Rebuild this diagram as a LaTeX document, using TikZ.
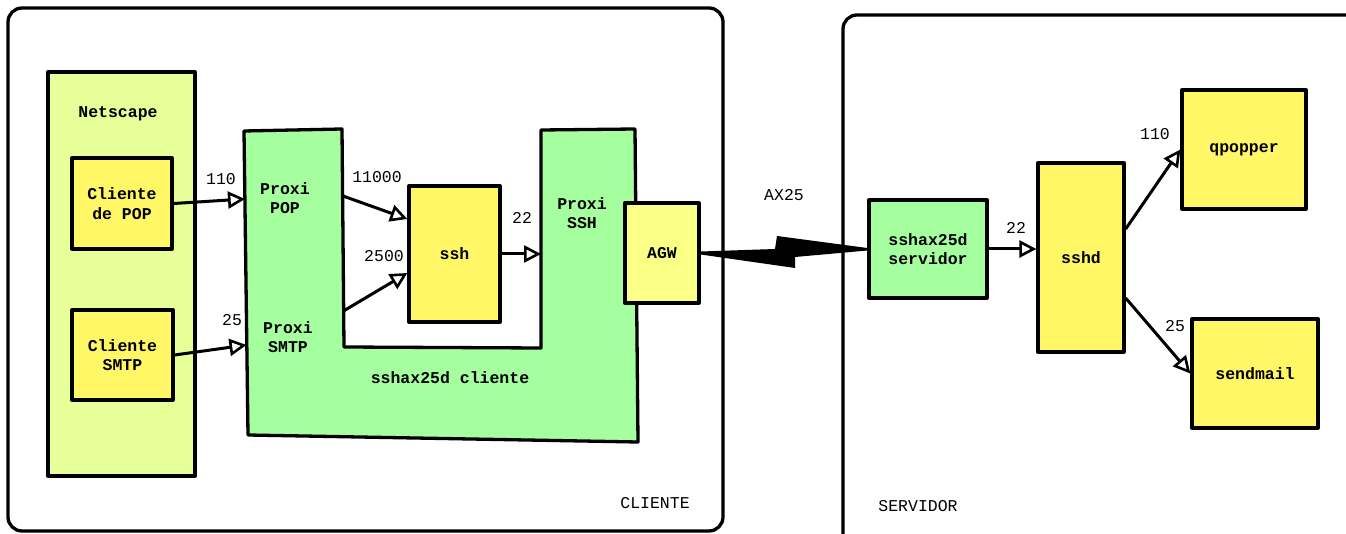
\documentclass[tikz,border=0pt]{standalone}
\usepackage{fontspec}
\setmainfont{Liberation Mono}
\usetikzlibrary{arrows.meta,calc}
\definecolor{grn}{HTML}{A6FF9F}
\definecolor{ylw}{HTML}{FFF766}
\definecolor{limec}{HTML}{E6FF98}
\definecolor{agwc}{HTML}{FAFF85}
\begin{document}
\begin{tikzpicture}[x=1pt,y=-1pt,line join=round,
  font=\fontsize{16.5}{19.5}\selectfont,
  box/.style={draw,line width=3.3pt,inner sep=0pt,align=center,font=\fontsize{16.5}{19.5}\selectfont\bfseries},
  txt/.style={inner sep=0pt,align=center},
  btxt/.style={inner sep=0pt,align=center,font=\fontsize{16.5}{19.5}\selectfont\bfseries},
  container/.style={draw,line width=3.3pt,rounded corners=14pt},
  conn/.style={line width=3pt,-{Triangle[fill=white,length=17pt,width=17pt,line width=2.6pt]}}]
\useasboundingbox (0,0) rectangle (1346,534);
\fill[white] (0,0) rectangle (1346,534);
\clip (0,0) rectangle (1346,534);

% containers
\draw[container] (8,8) rectangle (723,531);
\draw[container] (843,15) rectangle (1370,560);
\node[txt] (cliente) at (655,503) {CLIENTE};
\node[txt] (servidor) at (918,506) {SERVIDOR};

% Netscape
\node[box,fill=limec,minimum width=147pt,minimum height=404pt] (netscape) at (121.5,274) {};
\node[btxt] (netscapelbl) at (118,114) {Netscape};
\node[box,fill=ylw,minimum width=100pt,minimum height=91pt] (cpop) at (122,203.5) {Cliente\\de POP};
\node[box,fill=ylw,minimum width=101pt,minimum height=90pt] (csmtp) at (122.5,355) {Cliente\\SMTP};

% sshax25d cliente (U shape)
\draw[fill=grn,line width=3.3pt] (244,131) -- (342,129) -- (344,347) -- (541,348) -- (541,130) -- (635,129) -- (638,442) -- (248,435) -- cycle;
\coordinate (ppopin) at (245,199);
\coordinate (psmtpin) at (246.5,345);
\coordinate (ppopout) at (343,196);
\coordinate (psmtpout) at (343.5,311);
\coordinate (psshin) at (541,251);
\node[btxt] (ppop) at (285,198) {Proxi\\POP};
\node[btxt] (psmtp) at (288,337) {Proxi\\SMTP};
\node[btxt] (pssh) at (582,213) {Proxi\\SSH};
\node[btxt] (sshcli) at (450,378) {sshax25d cliente};

\node[box,fill=ylw,minimum width=91pt,minimum height=136pt] (ssh) at (454.5,254) {ssh};
\node[box,fill=agwc,minimum width=74pt,minimum height=100pt] (agw) at (662,253) {AGW};

% servidor side
\node[box,fill=grn,minimum width=118pt,minimum height=98pt] (srv) at (928,249) {sshax25d\\servidor};
\node[box,fill=ylw,minimum width=86pt,minimum height=189pt] (sshd) at (1081,257.5) {sshd};
\node[box,fill=ylw,minimum width=124pt,minimum height=119pt] (qpop) at (1244,149.5) {qpopper};
\node[box,fill=ylw,minimum width=126pt,minimum height=109pt] (smail) at (1255,373.5) {sendmail};

% connectors
\draw[conn] (cpop.east) -- (ppopin);
\draw[conn] (csmtp.east) -- (psmtpin);
\draw[conn] (ppopout) -- ([yshift=35pt]ssh.west);
\draw[conn] (psmtpout) -- ([yshift=-19pt]ssh.west);
\draw[conn] (ssh.east) -- (ssh.east -| psshin);
\draw[conn] (srv.east) -- (srv.east -| sshd.west);
\draw[conn] ([yshift=28.5pt]sshd.east) -- (qpop.west);
\draw[conn] ([yshift=-40.5pt]sshd.east) -- (smail.west);

% lightning link
\fill[black] ([yshift=1.5pt]agw.east) -- (775,249) -- (777,236) -- ([yshift=1pt]srv.west) -- ([yshift=-1.5pt]srv.west) -- (795,257) -- (795,268) -- ([yshift=-1.5pt]agw.east) -- cycle;
\node[txt] (ax25) at (784,195) {AX25};

% port labels
\node[txt] (l110a) at (221,179) {110};
\node[txt] (l25a) at (232,320) {25};
\node[txt] (l11000) at (377,177) {11000};
\node[txt] (l2500) at (384,256) {2500};
\node[txt] (l22a) at (522,218) {22};
\node[txt] (l22b) at (1016,228) {22};
\node[txt] (l110b) at (1155,134) {110};
\node[txt] (l25b) at (1175,326) {25};
\end{tikzpicture}
\end{document}
